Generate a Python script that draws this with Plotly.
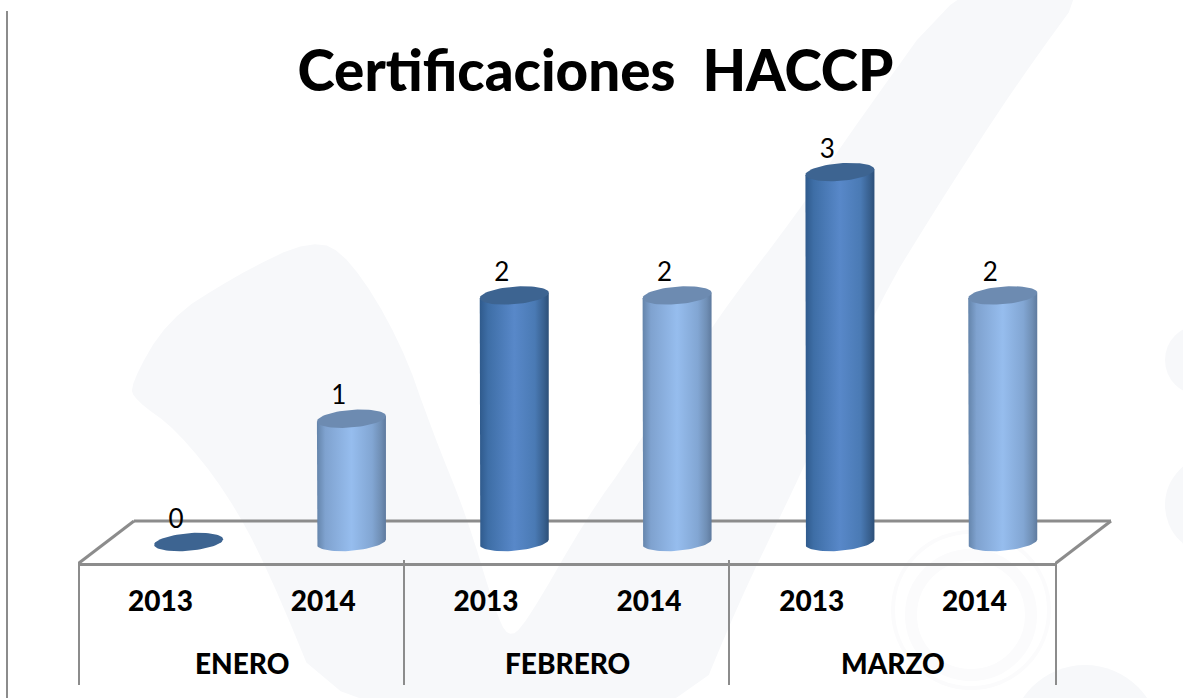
import numpy as np
import plotly.graph_objects as go

# ---- data ----
months = ["ENERO", "FEBRERO", "MARZO"]
years = ["2013", "2014", "2013", "2014", "2013", "2014"]
values = [0, 1, 2, 2, 3, 2]
is_light = [False, True, False, True, False, True]
title_text = "Certificaciones  HACCP"

# ---- layout constants ----
W, H = 1183, 698
L, R, T, B = 79, 1056, 0, 563
UNIT_PX = 123.3            # pixels per value unit
XUNIT_PX = (R - L) / 6
Y0_PX = 542                # pixel row of value 0 (bar base centre)
DEPTH = 0.173              # 3D depth shift of bars relative to their axis slot
GREY = "#8c8c8c"
WM = "#f7f8fa"
FONT = "Lato"

DARK = dict(top="#3d6491", scale=[[0, "#2f5a8c"], [0.12, "#3e6ea6"], [0.5, "#5888c9"],
                                 [0.8, "#4a7ab4"], [0.93, "#38608f"], [1, "#2c4f78"]])
LIGHT = dict(top="#6d8bb1", scale=[[0, "#6484aa"], [0.12, "#7fa2cf"], [0.5, "#96bdee"],
                                  [0.8, "#82a6d3"], [0.93, "#6f8eb4"], [1, "#5e7a9e"]])


def px(x, y):
    return (x - L) / (R - L), (B - y) / (B - T)


def ellipse(cx, v, t):
    a = 34.5 / XUNIT_PX
    tilt = 2.7 / UNIT_PX
    b = 8.8 / UNIT_PX
    return cx + a * np.cos(t), v + tilt * np.cos(t) + b * np.sin(t)


fig = go.Figure()
theta = np.linspace(0, 2 * np.pi, 73)
lower = np.linspace(np.pi, 2 * np.pi, 37)   # left end -> bottom -> right end

for i, (v, light) in enumerate(zip(values, is_light)):
    st = LIGHT if light else DARK
    cx = i + DEPTH
    if v > 0:
        bx, by = ellipse(cx, 0, lower)
        tx, ty = ellipse(cx, v, np.array([0.0, np.pi]))
        xs = np.concatenate([[tx[1]], bx, [tx[0], tx[1]]])
        ys = np.concatenate([[ty[1]], by, [ty[0], ty[1]]])
        fig.add_trace(go.Scatter(
            x=xs, y=ys, mode="lines", line=dict(width=0), fill="toself",
            fillgradient=dict(type="horizontal", colorscale=st["scale"]),
            hoverinfo="skip", showlegend=False))
    ex, ey = ellipse(cx, v, theta)
    fig.add_trace(go.Scatter(
        x=ex, y=ey, mode="lines", line=dict(width=0), fill="toself",
        fillcolor=st["top"], hoverinfo="skip", showlegend=False))

fig.add_trace(go.Scatter(
    x=[i + DEPTH - 12.5 / XUNIT_PX for i in range(len(values))],
    y=[v + 21 / UNIT_PX for v in values],
    text=[str(v) for v in values], mode="text", textposition="middle center",
    textfont=dict(family=FONT, size=26, color="black"),
    hoverinfo="skip", showlegend=False))


def chaikin(points, n=2):
    p = np.array(points, float)
    for _ in range(n):
        q = np.roll(p, -1, axis=0)
        p = np.column_stack([0.75 * p + 0.25 * q, 0.25 * p + 0.75 * q]).reshape(-1, 2)
    return p


def path(points):
    parts = []
    for k, (x, y) in enumerate(points):
        fx, fy = px(x, y)
        parts.append(("M" if k == 0 else "L") + f"{fx:.5f},{fy:.5f}")
    return " ".join(parts) + " Z"


def circle_shape(cx, cy, r, **kw):
    x0, y0 = px(cx - r, cy + r)
    x1, y1 = px(cx + r, cy - r)
    return dict(type="circle", xref="paper", yref="paper", x0=x0, y0=y0, x1=x1, y1=y1,
                layer="below", **kw)


def seg(x0, y0, x1, y1, width=3):
    a, b = px(x0, y0)
    c, d = px(x1, y1)
    return dict(type="line", xref="paper", yref="paper", x0=a, y0=b, x1=c, y1=d,
                line=dict(color=GREY, width=width), layer="below")


wm_outline = [(130, 385), (167, 320), (233, 277), (313, 238), (350, 258), (400, 340), (433, 433),
              (467, 517), (495, 610), (508, 638), (525, 625), (587, 517), (633, 453), (713, 323),
              (800, 210), (833, 157), (967, -30), (1100, -30), (1017, 83), (933, 213), (880, 300),
              (807, 460), (780, 517), (740, 600), (690, 720), (330, 720), (267, 567), (227, 493),
              (177, 430), (135, 400)]

shapes = [dict(type="path", path=path(chaikin(wm_outline)), xref="paper", yref="paper",
               fillcolor=WM, line=dict(width=0), layer="below")]
for c in [(1200, 360, 35), (1215, 505, 50), (1085, 740, 75)]:
    shapes.append(circle_shape(*c, fillcolor=WM, line=dict(width=0)))
shapes.append(circle_shape(971, 610, 78, line=dict(color="#fbfbfc", width=4)))
shapes.append(circle_shape(971, 615, 60, line=dict(color="#fbfbfc", width=12)))

# floor back edges, left rule, category dividers
shapes += [seg(79, 563, 134, 521), seg(134, 521, 1111, 521), seg(1111, 521, 1056, 563),
           seg(7, 11, 7, 698, 2), seg(79, 562, 79, 685, 2), seg(404, 560, 404, 685, 2),
           seg(729, 560, 729, 685, 2), seg(1056, 562, 1056, 685, 2)]

annotations = [dict(x=2 * k + 0.5, xref="x", y=(B - 663) / (B - T), yref="paper", text=m,
                    showarrow=False, xanchor="center", yanchor="middle",
                    font=dict(family=FONT, size=28, color="black", weight=900))
               for k, m in enumerate(months)]

fig.update_layout(
    width=W, height=H, autosize=False,
    margin=dict(l=L, r=W - R, t=T, b=H - B, pad=0),
    paper_bgcolor="white", plot_bgcolor="rgba(0,0,0,0)",
    showlegend=False, hovermode=False,
    title=dict(text=title_text, x=595.5 / W, xref="container", xanchor="center",
               y=1 - 71 / H, yref="container", yanchor="middle",
               font=dict(family=FONT, size=56.5, color="black", weight=900)),
    xaxis=dict(range=[-0.5, 5.5], tickmode="array", tickvals=list(range(6)), ticktext=years,
               showgrid=False, zeroline=False, showline=True, linecolor=GREY, linewidth=3,
               ticks="", ticklabelstandoff=11,
               tickfont=dict(family=FONT, size=28, color="black", weight=900)),
    yaxis=dict(range=[(Y0_PX - B) / UNIT_PX, (Y0_PX - T) / UNIT_PX], visible=False, fixedrange=True),
    shapes=shapes, annotations=annotations,
)

fig.write_html("out.html", config=dict(displayModeBar=False),
               post_script="document.body.style.margin='0';")
